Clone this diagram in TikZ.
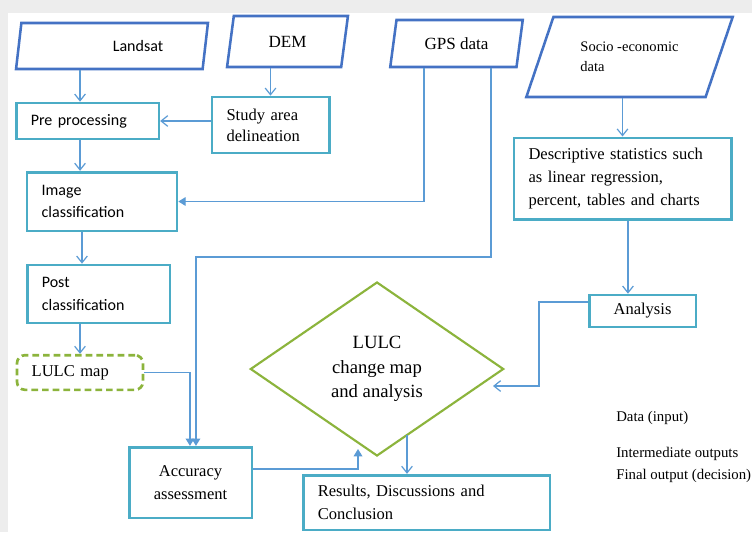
\documentclass[tikz,border=0pt]{standalone}
\usepackage{fontspec}
\setmainfont{Liberation Serif}
\newfontfamily\calibri{Carlito}
\usepackage{tikz}
\usetikzlibrary{shapes.geometric,arrows.meta}
\definecolor{iocol}{RGB}{68,114,196}
\definecolor{boxcol}{RGB}{75,172,198}
\definecolor{greencol}{RGB}{140,180,60}
\definecolor{linecol}{RGB}{91,155,213}
\definecolor{bggray}{RGB}{237,237,237}

\begin{document}
\begin{tikzpicture}[x=0.75pt,y=-0.75pt,
  io/.style={trapezium, draw=iocol, line width=1.9pt, inner sep=0pt, trapezium stretches=true},
  pbox/.style={draw=boxcol, line width=2pt, inner xsep=11pt, inner ysep=0pt, align=left},
  srf/.style={font=\fontsize{12.4}{17}\selectfont},
  sns/.style={font=\calibri\fontsize{12}{17}\selectfont},
  link/.style={color=linecol, line width=0.9pt, -{Straight Barb[length=5pt,width=8pt]}},
  flink/.style={color=linecol, line width=0.9pt, -{Triangle[length=5.5pt,width=6.5pt]}},
  legend/.style={anchor=west, inner sep=0pt, font=\fontsize{11.1}{14}\selectfont}]
\fill [bggray] (0,0) rectangle (752,532);
\fill [white] (8,13) rectangle (752,532);
\useasboundingbox (0,0) rectangle (752,532);

% inputs
\node [io, trapezium left angle=75, trapezium right angle=105, minimum width=144pt, minimum height=34.5pt, sns] (a) at (112,46) {\hspace*{39pt}Landsat};
\node [io, trapezium left angle=78, trapezium right angle=102, minimum width=90.75pt, minimum height=38.25pt, font=\fontsize{12.8}{15}\selectfont] (b) at (287.5,41.5) {DEM};
\node [io, trapezium left angle=74.5, trapezium right angle=105.5, minimum width=99.75pt, minimum height=35.25pt, font=\fontsize{12.8}{15}\selectfont] (c) at (456.5,43.5) {GPS data};
\node [io, trapezium left angle=59.6, trapezium right angle=120.4, minimum width=155.25pt, minimum height=60pt, align=left, font=\fontsize{10.9}{15}\selectfont] (d) at (629.5,57) {Socio -economic\\data};

% processing
\node [pbox, sns, text width=85pt, minimum height=27pt] (e) at (87.5,121) {Pre processing};
\node [pbox, srf, text width=66pt, minimum height=42pt, font=\fontsize{12.4}{15.75}\selectfont] (f) at (270.5,125) {Study area\\delineation};
\node [pbox, sns, text width=90.5pt, minimum height=44pt] (g) at (102,201.5) {Image\\classification};
\node [pbox, srf, text width=141pt, minimum height=61pt] (h) at (622.5,178.5) {Descriptive statistics such\\as linear regression,\\percent, tables and charts};
\node [pbox, sns, text width=85pt, minimum height=43.5pt] (i) at (98.5,294) {Post\\classification};
\node [pbox, srf, draw=greencol, dashed, dash pattern=on 5pt off 3pt, rounded corners=6pt, text width=72.5pt, minimum height=26pt] (j) at (80,372.5) {LULC map};
\node [pbox, srf, align=center, minimum width=92pt, minimum height=53pt] (k) at (190.5,482.5) {Accuracy\\assessment};
\node [diamond, draw=greencol, line width=1.6pt, aspect=1.45, minimum width=190pt, minimum height=130.5pt, inner sep=0pt, align=center, font=\fontsize{14}{18.5}\selectfont] (l) at (377,369) {LULC\\change map\\and analysis};
\node [pbox, srf, align=center, minimum width=80pt, minimum height=24pt] (m) at (642.5,311) {Analysis};
\node [pbox, srf, text width=163pt, minimum height=41pt] (n) at (426.5,502.5) {Results, Discussions and\\Conclusion};

% legend
\node [legend] (o) at (616,418) {Data (input)};
\node [legend] (p) at (616,454) {Intermediate outputs};
\node [legend] (q) at (616,476) {Final output (decision)};

% connectors
\coordinate (gb) at (491,257);
\coordinate (li) at (358,449);
\coordinate (ri) at (493,386);
\coordinate (lo) at (407,435);
\path [link] ([xshift=-5.6pt]e.north |- a.south) edge ([xshift=-5.6pt]e.north);
\path [link] (f.north |- b.south) edge (f.north);
\path [link] (f.west |- e.east) edge (e.east);
\path [link] ([xshift=-5.6pt]e.south) edge ([xshift=-5.6pt]e.south |- g.north);
\draw [flink] ([xshift=-24.4pt]c.south) |- (g.east);
\draw [flink] (gb |- c.south) -- (gb) -| ([xshift=4.1pt]k.north);
\path [link] ([xshift=-15pt]g.south) edge ([xshift=-15pt]g.south |- i.north);
\path [link] (i.south -| j.north) edge (j.north);
\draw [flink] (j.east) -| ([xshift=-0.4pt]k.north);
\draw [flink] ([yshift=10.1pt]k.east) -| (li);
\path [link] (h.north |- d.south) edge (h.north);
\path [link] ([xshift=4.1pt]h.south) edge ([xshift=4.1pt]h.south |- m.north);
\draw [link] ([yshift=6.75pt]m.west) -| ([xshift=34.5pt]ri) -- (ri);
\path [link] (lo) edge (lo |- n.north);
\end{tikzpicture}
\end{document}
